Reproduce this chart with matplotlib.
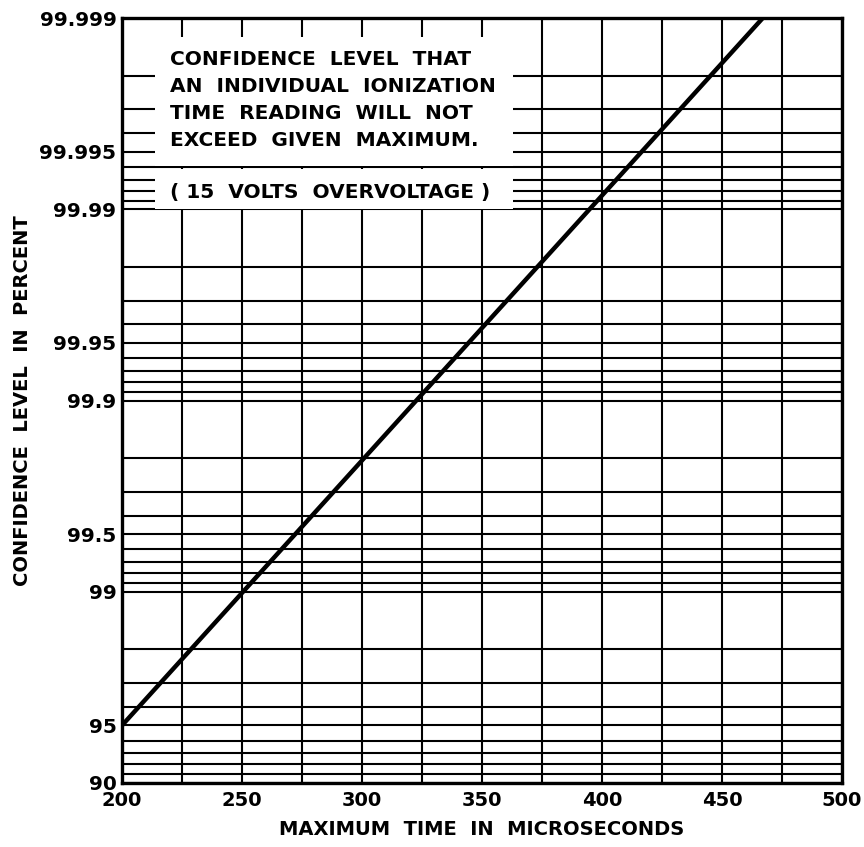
import numpy as np
import matplotlib

matplotlib.use("Agg")
import matplotlib.pyplot as plt  # noqa: E402
from matplotlib.patches import Rectangle  # noqa: E402
from matplotlib.transforms import blended_transform_factory  # noqa: E402

# line: max ionization time vs confidence level
time_us = [200, 467]
confidence = [95.0, 99.999]

x_ticks = [200, 250, 300, 350, 400, 450, 500]
y_ticks = [90, 95, 99, 99.5, 99.9, 99.95, 99.99, 99.995, 99.999]
y_tick_labels = ["90", "95", "99", "99.5", "99.9", "99.95", "99.99", "99.995", "99.999"]

note_lines = ["CONFIDENCE  LEVEL  THAT",
              "AN  INDIVIDUAL  IONIZATION",
              "TIME  READING  WILL  NOT",
              "EXCEED  GIVEN  MAXIMUM."]
note_sub = "( 15  VOLTS  OVERVOLTAGE )"


def fwd(p):
    return -np.log10(np.clip(100.0 - np.asarray(p, dtype=float), 1e-12, None))


def inv(y):
    return 100.0 - 10.0 ** (-np.asarray(y, dtype=float))


plt.rcParams["font.family"] = ["DejaVu Sans"]
plt.rcParams["font.weight"] = "bold"

fig = plt.figure(figsize=(8.64, 8.47), dpi=100)
ax = fig.add_axes([0.1412, 0.0756, 0.8333, 0.9031])

ax.set_yscale("function", functions=(fwd, inv))
ax.set_xlim(200, 500)
ax.set_ylim(90, 99.999)

# probability-paper grid: every 1..9 step in each decade of (100 - p)
minor_y = [100 - m * 10.0 ** k for k in range(-3, 1) for m in range(1, 10)]
ax.set_yticks(y_ticks)
ax.set_yticklabels(y_tick_labels)
ax.set_yticks(minor_y, minor=True)
ax.set_xticks(x_ticks)
ax.set_xticks(np.arange(200, 501, 25), minor=True)

ax.grid(which="both", color="black", lw=1.5, zorder=1)
ax.set_axisbelow(True)
ax.tick_params(which="both", length=0, pad=4)
ax.tick_params(axis="y", labelsize=14.5)
ax.tick_params(axis="x", labelsize=14, pad=6)
for lab in ax.get_xticklabels() + ax.get_yticklabels():
    lab.set_fontweight("bold")

for sp in ax.spines.values():
    sp.set_linewidth(2.4)

ax.plot(time_us, confidence, color="black", lw=3.2, solid_capstyle="butt", zorder=4)

# white panels for the note, split by the 99.994 rule that runs through it
tr = blended_transform_factory(ax.transAxes, ax.transData)
ax.add_patch(Rectangle((0.046, 99.99405), 0.497, 99.99874 - 99.99405,
                       transform=tr, facecolor="white", edgecolor="none", zorder=2))
ax.add_patch(Rectangle((0.046, 99.99005), 0.497, 99.99385 - 99.99005,
                       transform=tr, facecolor="white", edgecolor="none", zorder=2))

ax.text(0.066, 0.893, "\n".join(note_lines), transform=ax.transAxes,
        ha="left", va="center", multialignment="left", fontsize=14.5,
        fontweight="bold", linespacing=1.52, zorder=5)
ax.text(0.066, 99.9918, note_sub, transform=tr, ha="left", va="center",
        fontsize=14.5, fontweight="bold", zorder=5)

ax.set_xlabel("MAXIMUM  TIME  IN  MICROSECONDS", fontsize=14,
              fontweight="bold", labelpad=7)
ax.set_ylabel("CONFIDENCE  LEVEL  IN  PERCENT", fontsize=14,
              fontweight="bold", labelpad=5)

fig.savefig("out.png", dpi=100)
